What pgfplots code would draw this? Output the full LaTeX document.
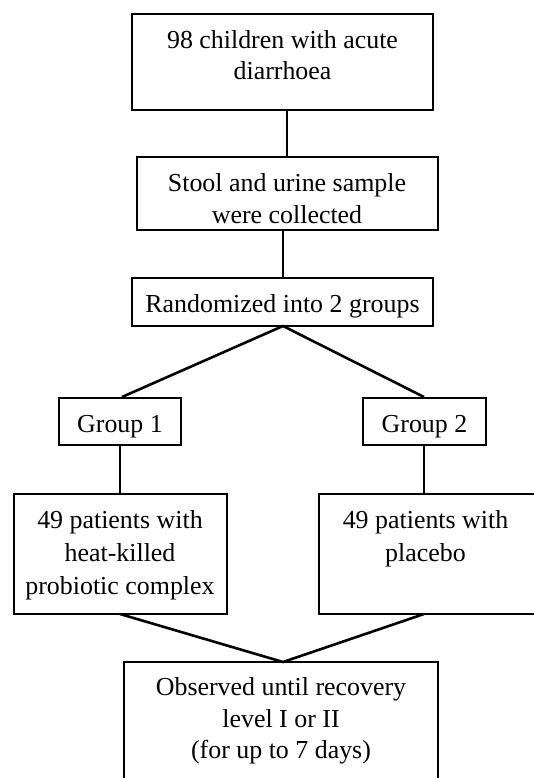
\documentclass[border=0pt]{standalone}
\usepackage{pgfplots}
\pgfplotsset{compat=1.18}
\usepackage{fontspec}
\setmainfont{Liberation Serif}
\tikzset{txt/.style={anchor=base,font=\fontsize{26}{30}\selectfont,inner sep=0pt}}
\pgfplotsset{ln/.style={black,solid,line width=2.6bp,mark=none,line join=miter}}
\begin{document}
\begin{tikzpicture}
\begin{axis}[width=534bp,height=778bp,scale only axis,
  xmin=0,xmax=534,ymin=0,ymax=778,y dir=reverse,hide axis,clip=true]
% invisible frame
\addplot[draw=none,mark=none] coordinates {(0,0)(534,778)};
% boxes
\addplot[ln] coordinates {(132,14)(433,14)(433,110)(132,110)(132,14)(433,14)};
\addplot[ln] coordinates {(137,157)(438,157)(438,230)(137,230)(137,157)(438,157)};
\addplot[ln] coordinates {(132,278)(433,278)(433,326)(132,326)(132,278)(433,278)};
\addplot[ln] coordinates {(59,398)(181,398)(181,445)(59,445)(59,398)(181,398)};
\addplot[ln] coordinates {(363,398)(486,398)(486,445)(363,445)(363,398)(486,398)};
\addplot[ln] coordinates {(14,494)(227,494)(227,614)(14,614)(14,494)(227,494)};
\addplot[ln] coordinates {(545,494)(319,494)(319,614)(545,614)};
\addplot[ln] coordinates {(124,800)(124,662)(438,662)(438,800)};
% connectors
\addplot[ln] coordinates {(287,110)(287,157)};
\addplot[ln] coordinates {(283,230)(283,278)};
\addplot[ln] coordinates {(122,397)(283,326)(424,397)};
\addplot[ln] coordinates {(120,445)(120,494)};
\addplot[ln] coordinates {(424,445)(424,494)};
\addplot[ln] coordinates {(120,614)(283,662)(424,614)};
% texts
\node[txt] at (axis cs:282.5,49) {98 children with acute};
\node[txt] at (axis cs:282.5,80) {diarrhoea};
\node[txt] at (axis cs:287,192) {Stool and urine sample};
\node[txt] at (axis cs:287,223) {were collected};
\node[txt] at (axis cs:282.5,312) {Randomized into 2 groups};
\node[txt] at (axis cs:120,432) {Group 1};
\node[txt] at (axis cs:424.5,432) {Group 2};
\node[txt] at (axis cs:120,528) {49 patients with};
\node[txt] at (axis cs:120,561) {heat-killed};
\node[txt] at (axis cs:120,594) {probiotic complex};
\node[txt] at (axis cs:425.5,528) {49 patients with};
\node[txt] at (axis cs:425.5,561) {placebo};
\node[txt] at (axis cs:281,695) {Observed until recovery};
\node[txt] at (axis cs:281,727) {level I or II};
\node[txt] at (axis cs:281,758) {(for up to 7 days)};
\end{axis}
\end{tikzpicture}
\end{document}
